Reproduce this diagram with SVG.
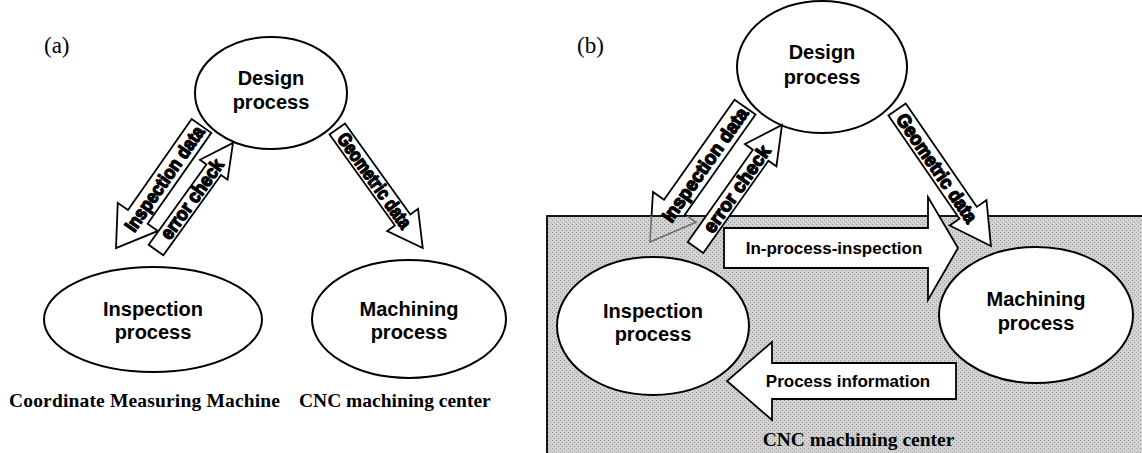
<svg xmlns="http://www.w3.org/2000/svg" width="1142" height="453" viewBox="0 0 1142 453">
  <defs>
    <style>
      .oval { fill: #ffffff; stroke: #000000; stroke-width: 2; }
      .lbl { font-family: "Liberation Sans", Arial, sans-serif; font-weight: bold; font-size: 20px; text-anchor: middle; fill: #000000; }
      .cap { font-family: "Liberation Serif", "Times New Roman", serif; font-weight: bold; font-size: 19.5px; fill: #000000; }
      .tag { font-family: "Liberation Serif", "Times New Roman", serif; font-size: 23px; fill: #000000; }
      .blk { fill: #ffffff; stroke: #000000; stroke-width: 1.8; stroke-linejoin: miter; }
      .ghost { fill: none; stroke: #6e6e6e; stroke-width: 1.6; stroke-linejoin: miter; }
      .diag { font-family: "Liberation Sans", Arial, sans-serif; font-weight: bold; font-size: 19px; text-anchor: middle; fill: #000000; stroke: #000000; stroke-width: 1.4; stroke-linejoin: round; }
      .flow { font-family: "Liberation Sans", Arial, sans-serif; font-weight: bold; font-size: 17px; text-anchor: middle; fill: #000000; }
    </style>
    <!-- dithered grey fill of the machining-center box -->
    <pattern id="dots" width="4" height="4" patternUnits="userSpaceOnUse">
      <rect width="4" height="4" fill="#d2d2d2"/>
      <rect x="0" y="0" width="1" height="1" fill="#9c9c9c"/>
      <rect x="2" y="2" width="1" height="1" fill="#9c9c9c"/>
    </pattern>
    <clipPath id="aboveBox"><rect x="0" y="0" width="1142" height="216"/></clipPath>
    <clipPath id="insideBox"><rect x="0" y="216" width="1142" height="240"/></clipPath>
  </defs>

  <rect width="1142" height="453" fill="#ffffff"/>

  <!-- ===== panel (a) ===== -->
  <text class="tag" x="44" y="53">(a)</text>

  <g id="a-design">
    <ellipse class="oval" cx="271" cy="93" rx="76" ry="56"/>
    <text class="lbl" x="271" y="85">Design</text>
    <text class="lbl" x="271" y="109">process</text>
  </g>
  <g id="a-inspection">
    <ellipse class="oval" cx="153" cy="319.5" rx="109" ry="52.5"/>
    <text class="lbl" x="153" y="316">Inspection</text>
    <text class="lbl" x="153" y="339">process</text>
  </g>
  <g id="a-machining">
    <ellipse class="oval" cx="409" cy="319" rx="97" ry="59"/>
    <text class="lbl" x="409" y="316">Machining</text>
    <text class="lbl" x="409" y="339">process</text>
  </g>

  <g id="a-connectors">
    <!-- Inspection data: design -> inspection -->
    <g transform="translate(158.75 187) rotate(-55)">
      <path class="blk" d="M -74.5 0 L -36.5 -24.5 L -36.5 -12 L 74.5 -12 L 74.5 12 L -36.5 12 L -36.5 24.5 Z"/>
      <text class="diag" x="10" y="6.5" font-size="20" textLength="124" lengthAdjust="spacingAndGlyphs">Inspection data</text>
    </g>
    <!-- error check: inspection -> design -->
    <g transform="translate(194.5 196.5) rotate(-54.3)">
      <path class="blk" d="M -66 -9 L 33 -9 L 33 -17 L 66 0 L 33 17 L 33 9 L -66 9 Z"/>
      <text class="diag" x="-3.6" y="6" textLength="94" lengthAdjust="spacingAndGlyphs">error check</text>
    </g>
    <!-- Geometric data: design -> machining -->
    <g transform="translate(380 188.5) rotate(54.3)">
      <path class="blk" d="M -73.25 -9.5 L 38.75 -9.5 L 38.75 -19 L 73.25 0 L 38.75 19 L 38.75 9.5 L -73.25 9.5 Z"/>
      <text class="diag" x="-9.6" y="6.5" textLength="113" lengthAdjust="spacingAndGlyphs">Geometric data</text>
    </g>
  </g>

  <text class="cap" x="9" y="407" textLength="271">Coordinate Measuring Machine</text>
  <text class="cap" x="299" y="407">CNC machining center</text>

  <!-- ===== panel (b) ===== -->
  <text class="tag" x="577" y="53">(b)</text>

  <g id="b-design">
    <ellipse class="oval" cx="822" cy="67" rx="85" ry="66"/>
    <text class="lbl" x="822" y="59">Design</text>
    <text class="lbl" x="822" y="84">process</text>
  </g>

  <!-- Inspection data arrow, upper part above the box -->
  <g clip-path="url(#aboveBox)">
    <g transform="translate(697.5 174.5) rotate(-54.8)">
      <path class="blk" d="M -82.5 0 L -39.9 -26.3 L -39.9 -12.8 L 82.5 -12.8 L 82.5 12.8 L -39.9 12.8 L -39.9 26.3 Z"/>
    </g>
  </g>

  <g id="b-machining-center">
    <rect x="547" y="216" width="620" height="260" fill="url(#dots)" stroke="#000000" stroke-width="1.8"/>
    <text class="cap" x="858.5" y="446" text-anchor="middle">CNC machining center</text>
  </g>

  <!-- Inspection data arrow, part seen through the box -->
  <g clip-path="url(#insideBox)">
    <g transform="translate(697.5 174.5) rotate(-54.8)">
      <path class="ghost" d="M -82.5 0 L -39.9 -26.3 L -39.9 -12.8 L 82.5 -12.8 L 82.5 12.8 L -39.9 12.8 L -39.9 26.3 Z"/>
    </g>
  </g>

  <g id="b-inspection">
    <ellipse class="oval" cx="653" cy="326" rx="96" ry="69"/>
    <text class="lbl" x="653" y="318">Inspection</text>
    <text class="lbl" x="653" y="341">process</text>
  </g>
  <g id="b-machining">
    <ellipse class="oval" cx="1036" cy="315" rx="97" ry="68"/>
    <text class="lbl" x="1036" y="306">Machining</text>
    <text class="lbl" x="1036" y="330">process</text>
  </g>

  <g id="b-connectors">
    <g transform="translate(697.5 174.5) rotate(-54.8)">
      <text class="diag" x="12.3" y="7" font-size="21" textLength="135" lengthAdjust="spacingAndGlyphs">Inspection data</text>
    </g>
    <g transform="translate(738.75 186.25) rotate(-54.8)">
      <path class="blk" d="M -75 -9.5 L 38 -9.5 L 38 -19.3 L 75 0 L 38 19.3 L 38 9.5 L -75 9.5 Z"/>
      <text class="diag" x="-3.4" y="6.5" font-size="20" textLength="102" lengthAdjust="spacingAndGlyphs">error check</text>
    </g>
    <g transform="translate(944 177.75) rotate(55.5)">
      <path class="blk" d="M -82.85 -10.5 L 42.55 -10.5 L 42.55 -22.3 L 82.85 0 L 42.55 22.3 L 42.55 10.5 L -82.85 10.5 Z"/>
      <text class="diag" x="-12.1" y="7" font-size="20" textLength="128" lengthAdjust="spacingAndGlyphs">Geometric data</text>
    </g>
    <!-- In-process-inspection: inspection -> machining -->
    <path class="blk" d="M 724 228 L 928 228 L 928 197 L 958 248 L 928 300 L 928 268 L 724 268 Z"/>
    <text class="flow" x="834" y="254">In-process-inspection</text>
    <!-- Process information: machining -> inspection -->
    <path class="blk" d="M 956 363 L 772 363 L 772 342 L 727 381 L 772 420 L 772 399 L 956 399 Z"/>
    <text class="flow" x="848" y="387">Process information</text>
  </g>
</svg>
